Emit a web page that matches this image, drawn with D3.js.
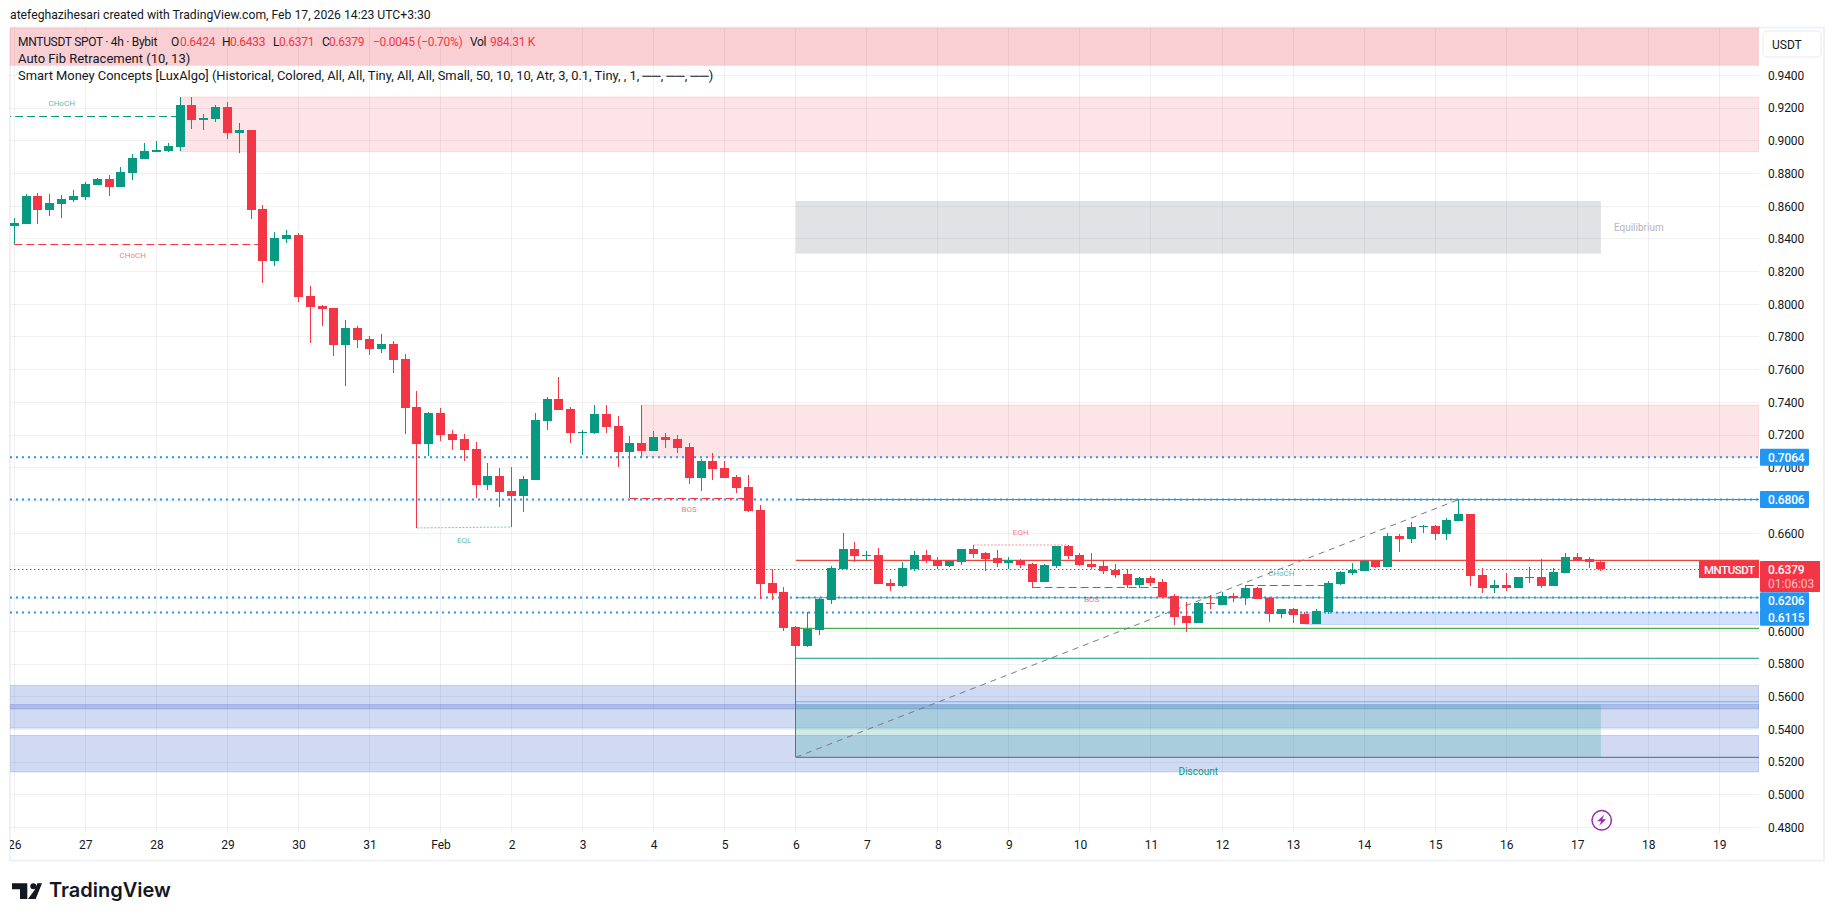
<!DOCTYPE html>
<html>
<head>
<meta charset="utf-8">
<script src="https://cdn.jsdelivr.net/npm/d3@7"></script>
<style>
body {margin:0; background:#fff;}
text {font-family:Roboto,"Noto Sans",sans-serif;}
</style>
</head>
<body>
<svg id="chart" width="1835" height="921"></svg>
<script>
// 4h candles, first bar = Jan 26 00:00
var opens = [
.8481,.8493,.8662,.8579,.8615,.8638,.8656,.8730,.8766,.8719,
.8805,.8891,.8933,.8938,.8964,.9219,.9129,.9135,.9207,.9050,
.9066,.8583,.8267,.8399,.8424,.8051,.7990,.7977,.7751,.7855,
.7788,.7727,.7757,.7665,.7372,.7146,.7335,.7207,.7176,.7115,
.6895,.6950,.6858,.6827,.6925,.7286,.7421,.7360,.7215,.7213,
.7329,.7256,.7097,.7152,.7103,.7188,.7176,.7127,.6938,.7042,
.6999,.6944,.6882,.6742,.6295,.6240,.6026,.5910,.6008,.6191,
.6381,.6503,.6460,.6467,.6295,.6277,.6381,.6467,.6436,.6399,
.6424,.6503,.6479,.6448,.6418,.6434,.6412,.6302,.6399,.6522,
.6467,.6412,.6399,.6375,.6350,.6283,.6326,.6302,.6216,.6094,
.6051,.6173,.6161,.6216,.6204,.6265,.6204,.6106,.6136,.6106,
.6045,.6118,.6289,.6357,.6369,.6430,.6393,.6583,.6565,.6638,
.6644,.6595,.6675,.6717,.6344,.6265,.6283,.6265,.6326,.6332,
.6277,.6357,.6454,.6442,.6424]
var highs = [
.8526,.8674,.8681,.8674,.8668,.8699,.8748,.8772,.8791,.8840,
.8919,.8986,.8999,.8986,.9268,.9268,.9164,.9219,.9237,.9109,
.9066,.8607,.8442,.8454,.8436,.8112,.7996,.7977,.7904,.7867,
.7806,.7818,.7775,.7696,.7470,.7341,.7366,.7231,.7207,.7158,
.7029,.6999,.7005,.6950,.7335,.7433,.7555,.7372,.7231,.7384,
.7384,.7317,.7194,.7384,.7225,.7213,.7201,.7152,.7054,.7090,
.7042,.6956,.6956,.6772,.6381,.6271,.6032,.6118,.6204,.6399,
.6601,.6546,.6491,.6509,.6320,.6424,.6491,.6497,.6454,.6436,
.6503,.6528,.6485,.6497,.6454,.6442,.6416,.6412,.6522,.6528,
.6479,.6479,.6434,.6412,.6381,.6332,.6338,.6320,.6228,.6179,
.6179,.6222,.6240,.6234,.6283,.6271,.6210,.6136,.6142,.6118,
.6136,.6308,.6369,.6418,.6436,.6436,.6601,.6595,.6669,.6650,
.6650,.6693,.6809,.6717,.6387,.6314,.6357,.6332,.6393,.6442,
.6387,.6479,.6479,.6454,.6433]
var lows = [
.8367,.8493,.8493,.8542,.8530,.8628,.8640,.8728,.8664,.8719,
.8760,.8891,.8933,.8931,.8938,.9074,.9068,.9117,.9013,.8927,
.8524,.8132,.8236,.8377,.8016,.7765,.7869,.7684,.7500,.7733,
.7690,.7702,.7580,.7207,.6632,.7072,.7164,.7109,.7042,.6815,
.6864,.6760,.6638,.6730,.6925,.7231,.7354,.7152,.7078,.7207,
.7213,.7005,.6813,.7068,.7103,.7121,.7090,.6901,.6858,.6925,
.6938,.6846,.6730,.6197,.6191,.6002,.5229,.5904,.5977,.6167,
.6381,.6424,.6436,.6289,.6246,.6271,.6369,.6418,.6381,.6393,
.6405,.6448,.6369,.6393,.6379,.6387,.6267,.6302,.6387,.6442,
.6399,.6381,.6350,.6326,.6265,.6265,.6277,.6210,.6039,.5996,
.6051,.6136,.6161,.6179,.6161,.6198,.6057,.6081,.6051,.6045,
.6045,.6106,.6283,.6344,.6369,.6387,.6393,.6485,.6540,.6601,
.6558,.6558,.6675,.6277,.6234,.6234,.6246,.6265,.6295,.6265,
.6277,.6357,.6430,.6387,.6371]
var closes = [
.8497,.8662,.8579,.8619,.8644,.8662,.8736,.8766,.8719,.8809,
.8895,.8938,.8944,.8968,.9219,.9129,.9139,.9207,.9050,.9066,
.8579,.8267,.8405,.8424,.8047,.7985,.7971,.7751,.7855,.7782,
.7727,.7757,.7659,.7366,.7146,.7335,.7201,.7170,.7109,.6895,
.6950,.6852,.6827,.6931,.7292,.7421,.7354,.7213,.7221,.7329,
.7250,.7097,.7152,.7103,.7188,.7170,.7121,.6938,.7042,.6993,
.6938,.6876,.6736,.6289,.6234,.6020,.5910,.6016,.6198,.6387,
.6503,.6460,.6467,.6289,.6277,.6387,.6467,.6430,.6399,.6430,
.6503,.6473,.6442,.6418,.6436,.6405,.6302,.6405,.6522,.6460,
.6405,.6393,.6369,.6344,.6283,.6326,.6295,.6210,.6087,.6051,
.6173,.6167,.6216,.6204,.6265,.6198,.6106,.6136,.6100,.6045,
.6124,.6295,.6363,.6375,.6430,.6393,.6583,.6565,.6638,.6644,
.6595,.6681,.6717,.6338,.6265,.6283,.6265,.6332,.6332,.6277,
.6363,.6454,.6430,.6424,.6379]

var dayLabels = ["26","27","28","29","30","31","Feb","2","3","4","5","6","7","8","9","10","11","12","13","14","15","16","17","18","19"]
var priceTicks = [.94,.92,.90,.88,.86,.84,.82,.80,.78,.76,.74,.72,.70,.68,.66,.64,.62,.60,.58,.56,.54,.52,.50,.48]
// these three sit under the boxes on the price axis
var hiddenPriceLabels = [.68,.64,.62]

var lastPrice = .6379
var alertLevels = [.7064,.6806,.6206,.6115]

// zones: [first bar, last bar or null for "to the right edge", top price, bottom price]
var premiumZones = [[14,null,.9268,.8933],[53,null,.7384,.7068]]
var headerZone = [-5,null,.9692,.9459]
var equilibriumZone = [66,134,.8632,.8310]
var discountZone = [66,134,.5552,.5229]
var orderBlocks = [[-5,null,.5669,.5408],[-5,null,.5552,.5525],[-5,null,.5363,.5140]]
var recentBlock = [109,null,.6115,.6040]

// auto fib levels
var fibPrices = [.6806,.6434,.6206,.6018,.5835,.5569,.5229]
var fibColors = ["#787b86","#f44336","#81c784","#4caf50","#089981","#64b5f6","#787b86"]
var fibTrend = [[66,.5229],[122,.6806]]

// structure lines: [from bar, to bar, price, kind]
var structureLines = [
  [-5,14,.9150,"up"],[0,21,.8367,"down"],[52,62,.6813,"down"],
  [86,97,.6267,"down"],[104,111,.6283,"up"]
]
var equalLines = [[34,42,.6632,.6638,"up"],[81,89,.6528,.6528,"down"]]
var structureLabels = [
  ["CHoCH",4,.9227,"up"],["CHoCH",10,.8300,"down"],["EQL",38,.6560,"up"],["BOS",57,.6746,"down"],
  ["EQH",85,.6604,"down"],["BOS",91,.6199,"down"],["CHoCH",107,.6353,"up"]
]

var green = "#089981", red = "#f23645", blue = "#2196f3"
var textColor = "#131722"

var plot = {left:10, right:1759, top:27, bottom:833}

var svg = d3.select("#chart")

var x = d3.scaleLinear().domain([0,144]).range([14.3,1719.3])
var y = d3.scaleLinear().domain([.94,.48]).range([75.4,827.5])

var rightBar = x.invert(plot.right)
var crisp = function(v) {return Math.floor(v) + .5}

svg.append("defs").append("clipPath").attr("id","plotclip")
  .append("rect")
  .attr("x",plot.left).attr("y",plot.top)
  .attr("width",plot.right-plot.left).attr("height",plot.bottom-plot.top)
svg.select("defs").append("clipPath").attr("id","timeclip")
  .append("rect")
  .attr("x",plot.left).attr("y",plot.bottom)
  .attr("width",plot.right-plot.left).attr("height",28)

// panel frame
svg.append("rect")
  .attr("x",10).attr("y",27.5).attr("width",1814).attr("height",833)
  .attr("fill","#fff").attr("stroke","#f0f1f4").attr("stroke-width",2)

var main = svg.append("g").attr("clip-path","url(#plotclip)")

// grid
var gridColor = "rgba(42,46,57,.065)"
main.selectAll(".hgrid").data(priceTicks).enter().append("line")
  .attr("x1",plot.left).attr("x2",plot.right)
  .attr("y1",function(d){return crisp(y(d))}).attr("y2",function(d){return crisp(y(d))})
  .attr("stroke",gridColor)
main.selectAll(".vgrid").data(dayLabels).enter().append("line")
  .attr("x1",function(d,i){return crisp(x(i*6))}).attr("x2",function(d,i){return crisp(x(i*6))})
  .attr("y1",plot.top).attr("y2",plot.bottom)
  .attr("stroke",gridColor)

var drawZone = function(z, fill, stroke)
{
    var r = z[1] === null ? rightBar : z[1]
    main.append("rect")
      .attr("x",x(z[0])).attr("width",x(r)-x(z[0]))
      .attr("y",y(z[2])).attr("height",y(z[3])-y(z[2]))
      .attr("fill",fill).attr("stroke",stroke || "none")
}

drawZone(headerZone,"rgba(236,54,69,.24)")
premiumZones.forEach(function(z){drawZone(z,"rgba(242,54,69,.135)","rgba(242,54,69,.12)")})
drawZone(equilibriumZone,"rgba(120,123,134,.22)")
orderBlocks.forEach(function(z){drawZone(z,"rgba(40,80,200,.21)","rgba(40,80,200,.2)")})
drawZone(recentBlock,"rgba(41,98,255,.2)","rgba(41,98,255,.16)")
drawZone(discountZone,"rgba(8,153,129,.2)")

// fib levels
main.selectAll(".fib").data(fibPrices).enter().append("line")
  .attr("x1",x(66)).attr("x2",plot.right)
  .attr("y1",function(d){return y(d)}).attr("y2",function(d){return y(d)})
  .attr("stroke",function(d,i){return fibColors[i]})
  .attr("stroke-width",1.1)

var lineGen = d3.line().x(function(d){return x(d[0])}).y(function(d){return y(d[1])})
main.append("path").attr("d",lineGen(fibTrend))
  .attr("fill","none").attr("stroke","#787b86").attr("stroke-width",1)
  .attr("stroke-dasharray","6,5")

// alert levels
main.selectAll(".alert").data(alertLevels).enter().append("line")
  .attr("x1",plot.left).attr("x2",plot.right)
  .attr("y1",function(d){return y(d)}).attr("y2",function(d){return y(d)})
  .attr("stroke",blue).attr("stroke-width",2).attr("stroke-dasharray","2,4")

// structure lines
main.selectAll(".struct").data(structureLines).enter().append("line")
  .attr("x1",function(d){return x(d[0])}).attr("x2",function(d){return x(d[1])})
  .attr("y1",function(d){return crisp(y(d[2]))}).attr("y2",function(d){return crisp(y(d[2]))})
  .attr("stroke",function(d){return d[3]=="up" ? green : red})
  .attr("stroke-dasharray","8,4")
main.selectAll(".equal").data(equalLines).enter().append("line")
  .attr("x1",function(d){return x(d[0])}).attr("x2",function(d){return x(d[1])})
  .attr("y1",function(d){return y(d[2])}).attr("y2",function(d){return y(d[3])})
  .attr("stroke",function(d){return d[4]=="up" ? green : red})
  .attr("stroke-opacity",.55)
  .attr("stroke-dasharray","2,1.5")

main.selectAll(".slabel").data(structureLabels).enter().append("text")
  .attr("x",function(d){return x(d[1])}).attr("y",function(d){return y(d[2])})
  .attr("dy","0.35em").attr("text-anchor","middle")
  .attr("font-size",8)
  .attr("fill",function(d){return d[3]=="up" ? green : red})
  .attr("fill-opacity",.7)
  .text(function(d){return d[0]})

main.append("text").attr("x",x(137.2)).attr("y",y(.8469)).attr("dy","0.35em")
  .attr("text-anchor","middle").attr("font-size",10).attr("fill","#b2b5be").text("Equilibrium")
main.append("text").attr("x",x(100)).attr("y",y(.5141)).attr("dy","0.35em")
  .attr("text-anchor","middle").attr("font-size",10).attr("fill",green).text("Discount")

// last price line
main.append("line")
  .attr("x1",plot.left).attr("x2",1699)
  .attr("y1",crisp(y(lastPrice))).attr("y2",crisp(y(lastPrice)))
  .attr("stroke",red).attr("stroke-dasharray","1.5,2.5")

// candles
var bars = main.selectAll(".bar").data(opens).enter().append("g")
  .attr("shape-rendering","crispEdges")
  .attr("fill",function(d,i){return closes[i]>=opens[i] ? green : red})

bars.append("rect")
  .attr("x",function(d,i){return Math.floor(x(i))})
  .attr("width",1)
  .attr("y",function(d,i){return y(highs[i])})
  .attr("height",function(d,i){return y(lows[i])-y(highs[i])})

bars.append("rect")
  .attr("x",function(d,i){return Math.floor(x(i))-4})
  .attr("width",9)
  .attr("y",function(d,i){return y(Math.max(opens[i],closes[i]))})
  .attr("height",function(d,i){return Math.max(1,Math.abs(y(opens[i])-y(closes[i])))})

// price axis
var priceAxis = d3.axisRight(y)
  .tickValues(priceTicks.filter(function(d){return hiddenPriceLabels.indexOf(d) < 0}))
  .tickFormat(d3.format(".4f")).tickSize(0).tickPadding(0)
var axisG = svg.append("g").attr("transform","translate(1768,0)").call(priceAxis)
axisG.select(".domain").remove()
axisG.selectAll("text").attr("font-size",12).attr("fill",textColor).attr("letter-spacing","-0.15")
  .style("font-family","Roboto")

// time axis
var timeAxis = d3.axisBottom(d3.scaleLinear().domain([0,dayLabels.length-1]).range([x(0),x((dayLabels.length-1)*6)]))
  .tickValues(d3.range(dayLabels.length))
  .tickFormat(function(d){return dayLabels[d]})
  .tickSize(0).tickPadding(0)
var timeG = svg.append("g").attr("clip-path","url(#timeclip)")
  .append("g").attr("transform","translate(0,840)").call(timeAxis)
timeG.select(".domain").remove()
timeG.selectAll("text").attr("font-size",12).attr("fill",textColor).style("font-family","Roboto")

// boxes on the price axis
var alertLabelY = [457.3,499.4,600.7,617.3]
var labels = svg.append("g")
labels.selectAll("rect").data(alertLevels).enter().append("rect")
  .attr("x",1760).attr("width",49).attr("height",17)
  .attr("y",function(d,i){return alertLabelY[i]-8.5})
  .attr("rx",1).attr("fill",blue)
labels.selectAll("text").data(alertLevels).enter().append("text")
  .attr("x",1768).attr("y",function(d,i){return alertLabelY[i]}).attr("dy","0.36em")
  .attr("font-size",12).attr("font-weight",500).attr("letter-spacing","-0.15").attr("fill","#fff")
  .text(function(d){return d3.format(".4f")(d)})

svg.append("rect").attr("x",1699).attr("y",561).attr("width",60).attr("height",17).attr("fill",red)
svg.append("text").attr("x",1704).attr("y",569.5).attr("dy","0.36em")
  .attr("font-size",11.5).attr("font-weight",500).attr("letter-spacing","-0.45").attr("fill","#fff").text("MNTUSDT")
svg.append("rect").attr("x",1760).attr("y",561).attr("width",60).attr("height",31).attr("rx",1).attr("fill",red)
svg.append("text").attr("x",1768).attr("y",570).attr("dy","0.36em")
  .attr("font-size",12).attr("font-weight",500).attr("letter-spacing","-0.15").attr("fill","#fff").text(d3.format(".4f")(lastPrice))
svg.append("text").attr("x",1768).attr("y",584).attr("dy","0.36em")
  .attr("font-size",12).attr("fill","#fff").attr("fill-opacity",.7).text("01:06:03")

// currency button
svg.append("rect").attr("x",1763).attr("y",31).attr("width",58).attr("height",26).attr("rx",4)
  .attr("fill","#fff").attr("stroke","#f0f1f4").attr("stroke-width",1.5)
svg.append("text").attr("x",1772).attr("y",44.5).attr("dy","0.36em")
  .attr("font-size",12).attr("fill",textColor).text("USDT")

// header and legend text
svg.append("text").attr("x",10).attr("y",19).attr("font-size",12.2).attr("fill",textColor)
  .text("atefeghazihesari created with TradingView.com, Feb 17, 2026 14:23 UTC+3:30")

var legendOne = [
  ["MNTUSDT SPOT \u00b7 4h \u00b7 Bybit",18,textColor],
  ["O",171,textColor],["0.6424",180,red],
  ["H",222,textColor],["0.6433",230,red],
  ["L",273,textColor],["0.6371",279,red],
  ["C",322,textColor],["0.6379",329,red],
  ["\u22120.0045 (\u22120.70%)",373,red],
  ["Vol",470,textColor],["984.31 K",490,red]
]
svg.selectAll(".legend").data(legendOne).enter().append("text")
  .attr("x",function(d){return d[1]}).attr("y",46)
  .attr("font-size",12).attr("letter-spacing","-0.3").attr("fill",function(d){return d[2]})
  .text(function(d){return d[0]})
svg.append("text").attr("x",18).attr("y",63).attr("font-size",13).attr("fill",textColor)
  .text("Auto Fib Retracement (10, 13)")
svg.append("text").attr("x",18).attr("y",80).attr("font-size",12.9).attr("fill",textColor)
  .text("Smart Money Concepts [LuxAlgo] (Historical, Colored, All, All, Tiny, All, All, Small, 50, 10, 10, Atr, 3, 0.1, Tiny, , 1, \u2500\u2500, \u2500\u2500, \u2500\u2500)")

// replay icon
var icon = svg.append("g").attr("transform","translate(1601.7,820.3)")
icon.append("circle").attr("r",9.7).attr("fill","#fff").attr("stroke","#9c27b0").attr("stroke-width",1.5)
icon.append("path").attr("d","M2.5,-5.5L-4.5,1H-0.5L-2.5,5.5L4.5,-1H0.5Z").attr("fill","#9c27b0")

// logo
var logo = svg.append("g").attr("fill","#131722")
logo.append("path").attr("d","M12,883.3H27.3V899H20V889.3H12Z")
logo.append("circle").attr("cx",33.3).attr("cy",886.3).attr("r",3)
logo.append("path").attr("d","M42,883.3L35.7,899H28L34.4,890.2L37.4,883.3Z")
logo.append("text").attr("x",49).attr("y",897).attr("font-size",20).attr("font-weight",600)
  .style("font-family","Inter").text("TradingView")
</script>
</body>
</html>
